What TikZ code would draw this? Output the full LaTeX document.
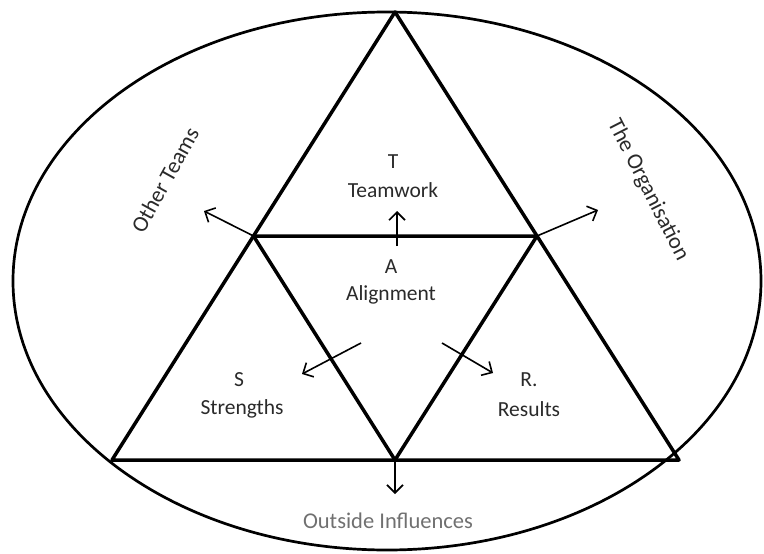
\documentclass[tikz,border=0pt]{standalone}
\usepackage{fontspec}
\setmainfont{Carlito}
\usetikzlibrary{arrows.meta}
\definecolor{txt}{HTML}{2A2A2A}
\definecolor{outtxt}{HTML}{707070}
\tikzset{
  tri/.style={line width=3.5pt, line join=round},
  oval/.style={line width=2.7pt},
  arr/.style={line width=1.6pt, -{Straight Barb[length=8pt,width=16pt,line width=1.6pt]}},
  lbl/.style={font=\fontsize{21.5}{24}\selectfont, text=txt, inner sep=0pt},
  side/.style={font=\fontsize{22.5}{26}\selectfont, text=txt, inner sep=0pt},
}
\begin{document}
\begin{tikzpicture}[x=1pt,y=-1pt]
\useasboundingbox (0,0) rectangle (764,554);
% outer ellipse
\draw[oval] (387,281) ellipse [x radius=374, y radius=269];
% triangle vertices
\coordinate (apex) at (395,12);
\coordinate (bl) at (112,460);
\coordinate (br) at (679,460);
\coordinate (ml) at (253.5,236);
\coordinate (mr) at (537,236);
\coordinate (mb) at (395,460);
\draw[tri] (apex) -- (bl) -- (br) -- cycle;
\draw[tri] (ml) -- (mr) -- (mb) -- cycle;
% arrow ends
\coordinate (upS) at (397,246);
\coordinate (upE) at (397,211);
\coordinate (otE) at (204,211);
\coordinate (orE) at (598,210);
\coordinate (stS) at (361,343);
\coordinate (stE) at (302,374);
\coordinate (reS) at (442,343);
\coordinate (reE) at (493,373);
\coordinate (dnE) at (395,494);
\draw[arr] (upS) -- (upE);
\draw[arr] (ml) -- (otE);
\draw[arr] (mr) -- (orE);
\draw[arr] (stS) -- (stE);
\draw[arr] (reS) -- (reE);
\draw[arr] (mb) -- (dnE);
% labels
\node[lbl] (t) at (393,162) {T};
\node[lbl] (tw) at (393,190) {Teamwork};
\node[lbl] (a) at (391,267) {A};
\node[lbl] (al) at (391,295) {Alignment};
\node[lbl] (s) at (239,380) {S};
\node[lbl] (st) at (242,409) {Strengths};
\node[lbl] (r) at (529,380) {R.};
\node[lbl] (re) at (529,409) {Results};
\node[side, text=outtxt] (oi) at (388,521) {Outside Influences};
\node[side, rotate=61] (ot) at (165,180) {Other Teams};
\node[side, rotate=-63] (org) at (648,190) {The Organisation};
\end{tikzpicture}
\end{document}
